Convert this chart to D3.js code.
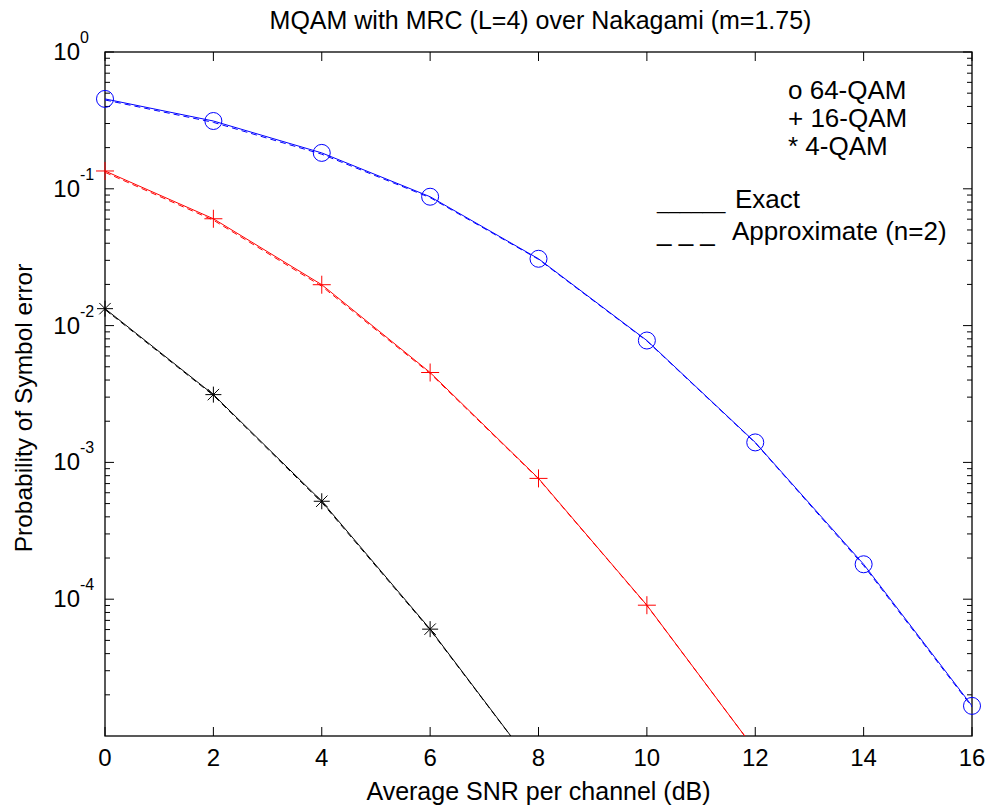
<!DOCTYPE html>
<html><head><meta charset="utf-8">
<script src="https://cdn.jsdelivr.net/npm/d3@7/dist/d3.min.js"></script>
<style>body{margin:0;background:#fff}svg{display:block}text{font-family:"Liberation Sans",Arial,sans-serif;fill:#000}</style>
</head><body>
<svg id="c" width="990" height="809"></svg>
<script>
const snr = [0,2,4,6,8,10,12,14,16];
const qam64Exact  = [0.454,0.313,0.183,0.0875,0.0308,0.00778,0.00140,1.80e-4,1.66e-5];
const qam64Approx = [0.446,0.306,0.179,0.0862,0.0305,0.00772,0.00139,1.76e-4,1.63e-5];
const snr16 = [0,2,4,6,8,10,12];
const qam16Exact  = [0.135,0.0604,0.0199,0.00454,7.64e-4,9.04e-5,7.9e-6];
const qam16Approx = [0.132,0.0590,0.0194,0.00447,7.58e-4,9.0e-5,7.9e-6];
const snr4 = [0,2,4,6,8];
const qam4Exact  = [0.0133,0.00313,5.2e-4,6.04e-5,5.4e-6];
const qam4Approx = [0.0131,0.00309,5.1e-4,5.96e-5,5.4e-6];
const xTicks = [0,2,4,6,8,10,12,14,16];
const yTickExps = [0,-1,-2,-3,-4];
const title = "MQAM with MRC (L=4) over Nakagami (m=1.75)";
const xLabel = "Average SNR per channel (dB)";
const yLabel = "Probability of Symbol error";
const legendMarkers = ["o 64-QAM","+ 16-QAM","* 4-QAM"];
const legendLines = [["______","Exact"],["_ _ _","Approximate (n=2)"]];

const L=105,R=972,T=52,B=736;
const svg=d3.select("#c");
const x=d3.scaleLinear().domain([0,16]).range([L,R]);
const y=d3.scaleLog().domain([1e-5,1]).range([B,T]);

svg.append("defs").append("clipPath").attr("id","clip").append("rect")
  .attr("x",L).attr("y",T).attr("width",R-L).attr("height",B-T);

// ticks
const minor=[];
for(let e=-5;e<0;e++) for(let k=2;k<=9;k++) minor.push(k*Math.pow(10,e));
const g=svg.append("g").attr("stroke","#000").attr("stroke-width",1);
xTicks.forEach(t=>{
  g.append("line").attr("x1",x(t)).attr("x2",x(t)).attr("y1",B).attr("y2",B-9);
  g.append("line").attr("x1",x(t)).attr("x2",x(t)).attr("y1",T).attr("y2",T+9);
});
yTickExps.forEach(e=>{
  const yy=y(Math.pow(10,e));
  g.append("line").attr("x1",L).attr("x2",L+9).attr("y1",yy).attr("y2",yy);
  g.append("line").attr("x1",R).attr("x2",R-9).attr("y1",yy).attr("y2",yy);
});
minor.forEach(v=>{
  const yy=y(v);
  g.append("line").attr("x1",L).attr("x2",L+5).attr("y1",yy).attr("y2",yy);
  g.append("line").attr("x1",R).attr("x2",R-5).attr("y1",yy).attr("y2",yy);
});
svg.append("rect").attr("x",L).attr("y",T).attr("width",R-L).attr("height",B-T)
  .attr("fill","none").attr("stroke","#000").attr("stroke-width",1.3);

// tick labels
xTicks.forEach(t=>{
  svg.append("text").attr("x",x(t)).attr("y",766).attr("text-anchor","middle")
    .attr("font-size",24).text(t);
});
yTickExps.forEach(e=>{
  const yy=y(Math.pow(10,e));
  svg.append("text").attr("x",80).attr("y",yy+8).attr("text-anchor","end").attr("font-size",24).text("10");
  svg.append("text").attr("x",80).attr("y",yy-9).attr("font-size",16).text(String(e));
});

// lines
const line=(xs)=>d3.line().x((d,i)=>x(xs[i])).y(d=>y(d));
const plot=svg.append("g").attr("clip-path","url(#clip)");
const series=[
  {xs:snr,ex:qam64Exact,ap:qam64Approx,c:"#0000ff",m:"o"},
  {xs:snr16,ex:qam16Exact,ap:qam16Approx,c:"#ff0000",m:"+"},
  {xs:snr4,ex:qam4Exact,ap:qam4Approx,c:"#000000",m:"*"}
];
series.forEach(s=>{
  plot.append("path").attr("d",line(s.xs)(s.ap)).attr("fill","none").attr("stroke",s.c)
    .attr("stroke-width",1).attr("stroke-dasharray","6,4");
  plot.append("path").attr("d",line(s.xs)(s.ex)).attr("fill","none").attr("stroke",s.c).attr("stroke-width",1);
});
const mk=svg.append("g");
series.forEach(s=>{
  s.ex.forEach((v,i)=>{
    if(v<1e-5) return;
    const cx=x(s.xs[i]), cy=y(v);
    if(s.m==="o"){
      mk.append("circle").attr("cx",cx).attr("cy",cy).attr("r",8.5).attr("fill","none").attr("stroke",s.c).attr("stroke-width",1);
    } else if(s.m==="+"){
      mk.append("path").attr("d",`M${cx-9},${cy}H${cx+9}M${cx},${cy-9}V${cy+9}`).attr("stroke",s.c).attr("stroke-width",1);
    } else {
      const r=8,d=5.7;
      mk.append("path").attr("d",`M${cx-r},${cy}H${cx+r}M${cx},${cy-r}V${cy+r}M${cx-d},${cy-d}L${cx+d},${cy+d}M${cx-d},${cy+d}L${cx+d},${cy-d}`)
        .attr("stroke",s.c).attr("stroke-width",1);
    }
  });
});

// titles
svg.append("text").attr("x",(L+R)/2+2).attr("y",29).attr("text-anchor","middle").attr("font-size",25).text(title);
svg.append("text").attr("x",(L+R)/2).attr("y",800).attr("text-anchor","middle").attr("font-size",25).text(xLabel);
svg.append("text").attr("transform",`translate(32,${(T+B)/2+14}) rotate(-90)`).attr("text-anchor","middle").attr("font-size",24.5).text(yLabel);

// legend text
legendMarkers.forEach((t,i)=>{
  svg.append("text").attr("x",788).attr("y",99+i*28).attr("font-size",26).text(t);
});
svg.append("text").attr("x",657).attr("y",209).attr("font-size",20.5).text(legendLines[0][0]);
svg.append("text").attr("x",735).attr("y",208).attr("font-size",26).text(legendLines[0][1]);
svg.append("text").attr("x",657).attr("y",241).attr("font-size",26).style("white-space","pre").text(legendLines[1][0]);
svg.append("text").attr("x",732).attr("y",240).attr("font-size",26).text(legendLines[1][1]);
</script>
</body></html>
